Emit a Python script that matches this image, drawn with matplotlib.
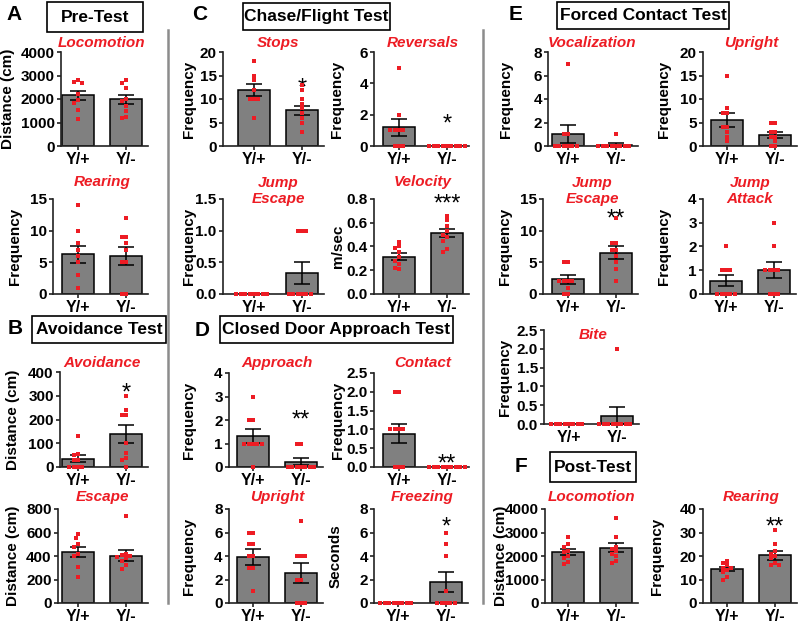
import matplotlib.pyplot as plt
from matplotlib.patches import Rectangle
from matplotlib.lines import Line2D
import numpy as np

plt.rcParams['font.family'] = ['Liberation Sans', 'DejaVu Sans']
plt.rcParams['font.weight'] = 'bold'

W, H = 800, 622
RED = '#ed1c24'
BAR = '#808080'
AXC = '#222222'

groups = ['Y/+', 'Y/-']

# A  Pre-Test
pre_loco_wt = [2800, 2730, 2700, 2230, 1950, 1840, 1530, 1150]
pre_loco_ko = [2800, 2700, 2450, 2000, 1900, 1700, 1500, 1250, 1200]
pre_loco_mean = [2150, 1990]
pre_loco_sem = [200, 190]

pre_rear_wt = [14, 10, 8, 7, 6, 5, 3, 1]
pre_rear_ko = [12, 9, 9, 8, 7, 5, 5, 0, 0]
pre_rear_mean = [6.3, 6.0]
pre_rear_sem = [1.35, 1.4]

# B  Avoidance Test
avoid_wt = [130, 55, 50, 30, 30, 0, 0, 0, 0]
avoid_ko = [300, 240, 220, 220, 100, 60, 40, 30, 0]
avoid_mean = [35, 140]
avoid_sem = [14, 37]

escape_wt = [585, 550, 500, 480, 420, 400, 310, 220]
escape_ko = [740, 420, 410, 400, 390, 380, 360, 320, 290]
escape_mean = [434, 403]
escape_sem = [42, 48]

# C  Chase/Flight Test
stops_wt = [18, 15, 14, 12, 10, 10, 10, 6]
stops_ko = [13, 12, 10, 9, 8, 7, 6, 5, 3]
stops_mean = [11.9, 7.6]
stops_sem = [1.3, 1.0]

rev_wt = [5, 2, 1, 1, 1, 1, 0, 0, 0]
rev_ko = [0, 0, 0, 0, 0, 0, 0, 0, 0]
rev_mean = [1.2, 0]
rev_sem = [0.53, 0]

cjump_wt = [0, 0, 0, 0, 0, 0, 0, 0]
cjump_ko = [1, 1, 1, 0, 0, 0, 0, 0, 0]
cjump_mean = [0, 0.33]
cjump_sem = [0, 0.17]

vel_wt = [0.44, 0.40, 0.39, 0.35, 0.31, 0.28, 0.25, 0.22, 0.21]
vel_ko = [0.66, 0.62, 0.57, 0.53, 0.50, 0.48, 0.45, 0.38, 0.35]
vel_mean = [0.315, 0.513]
vel_sem = [0.03, 0.037]

# D  Closed Door Approach Test
appr_wt = [3, 2, 2, 1, 1, 1, 1, 1, 0]
appr_ko = [1, 1, 0, 0, 0, 0, 0, 0, 0]
appr_mean = [1.33, 0.22]
appr_sem = [0.3, 0.15]

cont_wt = [2, 2, 1, 1, 1, 1, 0, 0, 0]
cont_ko = [0, 0, 0, 0, 0, 0, 0, 0, 0]
cont_mean = [0.89, 0]
cont_sem = [0.26, 0]

dup_wt = [6, 6, 5, 5, 4, 4, 3, 3, 1]
dup_ko = [7, 4, 4, 4, 2, 2, 0, 0, 0]
dup_mean = [3.9, 2.56]
dup_sem = [0.66, 0.82]

freeze_wt = [0, 0, 0, 0, 0, 0, 0, 0]
freeze_ko = [6, 5, 4, 1, 0, 0, 0, 0, 0]
freeze_mean = [0, 1.78]
freeze_sem = [0, 0.85]

# E  Forced Contact Test
vocal_wt = [7, 1, 1, 0, 0, 0, 0, 0, 0]
vocal_ko = [1, 0, 0, 0, 0, 0, 0, 0, 0]
vocal_mean = [1.0, 0.11]
vocal_sem = [0.76, 0.11]

eup_wt = [15, 8, 7, 7, 4, 4, 3, 2, 1]
eup_ko = [5, 5, 3, 3, 2, 2, 1, 0, 0]
eup_mean = [5.5, 2.3]
eup_sem = [1.5, 0.6]

ejump_wt = [5, 5, 2, 2, 2, 2, 1, 0, 0]
ejump_ko = [12, 8, 8, 7, 7, 6, 5, 4, 2]
ejump_mean = [2.3, 6.55]
ejump_sem = [0.65, 0.95]

attack_wt = [2, 1, 1, 1, 0, 0, 0, 0, 0]
attack_ko = [3, 2, 1, 1, 1, 1, 0, 0, 0]
attack_mean = [0.56, 1.0]
attack_sem = [0.24, 0.33]

bite_wt = [0, 0, 0, 0, 0, 0, 0, 0]
bite_ko = [2, 0, 0, 0, 0, 0, 0, 0, 0]
bite_mean = [0, 0.22]
bite_sem = [0, 0.22]

# F  Post-Test
post_loco_wt = [2800, 2500, 2400, 2200, 2150, 2000, 1900, 1750, 1650]
post_loco_ko = [3600, 2800, 2400, 2300, 2200, 2100, 2000, 1800, 1700]
post_loco_mean = [2170, 2360]
post_loco_sem = [130, 190]

post_rear_wt = [18, 17, 16, 15, 15, 14, 13, 11, 10]
post_rear_ko = [31, 25, 22, 21, 20, 19, 17, 16, 16]
post_rear_mean = [14.5, 20.3]
post_rear_sem = [1.0, 1.9]

# layout in pixels: y-axis x, left edge of first bar, y of top tick, y of zero,
# title y, y-label x
layout = {
    'pre_loco':  (61, 62, 52, 146, 43, 8),
    'pre_rear':  (53, 62, 199, 294, 182, 15),
    'avoid':     (60, 62, 372, 467, 363, 13),
    'escape':    (58, 62, 509, 603, 497, 13),
    'stops':     (223, 238, 52, 146, 43, 189),
    'rev':       (374, 383, 52, 146, 43, 337),
    'cjump':     (223, 238, 199, 294, 191, 189),
    'vel':       (374, 383, 199, 294, 182, 338),
    'appr':      (229, 237, 373, 467, 363, 189),
    'cont':      (374, 383, 373, 467, 363, 338),
    'dup':       (229, 237, 509, 603, 497, 189),
    'freeze':    (374, 382, 509, 603, 497, 336),
    'vocal':     (548, 552, 52, 146, 43, 506),
    'eup':       (703, 711, 52, 146, 43, 664),
    'ejump':     (543, 552, 199, 294, 191, 505),
    'attack':    (703, 710, 199, 294, 191, 664),
    'bite':      (544, 553, 330, 424, 335, 505),
    'post_loco': (545, 552, 509, 603, 497, 501),
    'post_rear': (703, 711, 509, 603, 497, 657),
}

fig = plt.figure(figsize=(W / 100, H / 100), dpi=100)


def swarm(vals, ppu, d=4.4, step=2.2):
    # simple beeswarm in pixel space, returns x offsets in bar units (48 px)
    placed, out = [], []
    cands = [0]
    for j in range(1, 20):
        cands += [-j, j]
    for v in vals:
        y = v * ppu
        for c in cands:
            x = c * step
            if all((x - px) ** 2 + (y - py) ** 2 >= (d - 0.1) ** 2 for px, py in placed):
                break
        placed.append((x, y))
        out.append(x / 48)
    return np.array(out)


def panel(key, wt, ko, mean, sem, title, ylabel, ymax, step, star=None, star_y=None):
    spine, left, top, base, ty, lx = layout[key]
    c0 = left + 16
    end = left + 86
    ax = fig.add_axes([spine / W, 1 - base / H, (end - spine) / W, (base - top) / H])
    ax.set_xlim((spine - c0) / 48, (end - c0) / 48)
    ax.set_ylim(0, ymax)
    ax.bar([0, 1], mean, width=32 / 48, color=BAR, edgecolor='black', linewidth=1.1, zorder=2)
    idx = [i for i in range(2) if sem[i] > 0]
    ax.errorbar(idx, [mean[i] for i in idx], yerr=[sem[i] for i in idx], fmt='none',
                ecolor='black', elinewidth=1.1, capsize=6, capthick=1.1, zorder=3)
    ppu = (base - top) / ymax
    for i, pts in enumerate([wt, ko]):
        ax.plot(i + swarm(pts, ppu), pts, 's', color=RED, ms=2.9, mew=0, zorder=4, clip_on=False)
    ticks = np.arange(0, ymax + step / 2, step)
    ax.set_yticks(ticks)
    if step < 1:
        ax.set_yticklabels(['%.1f' % t for t in ticks])
    else:
        ax.set_yticklabels(['%d' % t for t in ticks])
    ax.set_xticks([0, 1])
    ax.set_xticklabels(groups)
    for s in ['top', 'right']:
        ax.spines[s].set_visible(False)
    for s in ['left', 'bottom']:
        ax.spines[s].set_color(AXC)
        ax.spines[s].set_linewidth(1.2)
    ax.tick_params(axis='y', length=3, width=1.2, pad=1.5, labelsize=11, color=AXC)
    ax.tick_params(axis='x', length=3, width=1.2, pad=1, labelsize=11.5, color=AXC)
    ax.patch.set_alpha(0)
    fig.text(lx / W, 1 - (top + base) / 2 / H, ylabel, rotation=90, ha='center', va='center',
             fontsize=11)
    fig.text((c0 + 24) / W, 1 - ty / H, title, color=RED, style='italic', fontsize=11,
             ha='center', va='center', linespacing=1.15)
    if star:
        ax.annotate(star, (1, star_y), xytext=(0, -10), textcoords='offset points',
                    ha='center', va='baseline', fontsize=17, fontweight='normal',
                    annotation_clip=False)
    return ax


panel('pre_loco', pre_loco_wt, pre_loco_ko, pre_loco_mean, pre_loco_sem,
      'Locomotion', 'Distance (cm)', 4000, 1000)
panel('pre_rear', pre_rear_wt, pre_rear_ko, pre_rear_mean, pre_rear_sem,
      'Rearing', 'Frequency', 15, 5)
panel('avoid', avoid_wt, avoid_ko, avoid_mean, avoid_sem,
      'Avoidance', 'Distance (cm)', 400, 100, '*', 341)
panel('escape', escape_wt, escape_ko, escape_mean, escape_sem,
      'Escape', 'Distance (cm)', 800, 200)
panel('stops', stops_wt, stops_ko, stops_mean, stops_sem,
      'Stops', 'Frequency', 20, 5, '*', 14.0)
panel('rev', rev_wt, rev_ko, rev_mean, rev_sem,
      'Reversals', 'Frequency', 6, 2, '*', 1.85)
panel('cjump', cjump_wt, cjump_ko, cjump_mean, cjump_sem,
      'Jump\nEscape', 'Frequency', 1.5, 0.5)
panel('vel', vel_wt, vel_ko, vel_mean, vel_sem,
      'Velocity', 'm/sec', 0.8, 0.2, '***', 0.82)
panel('appr', appr_wt, appr_ko, appr_mean, appr_sem,
      'Approach', 'Frequency', 4, 1, '**', 2.3)
panel('cont', cont_wt, cont_ko, cont_mean, cont_sem,
      'Contact', 'Frequency', 2.5, 0.5, '**', 0.28)
panel('dup', dup_wt, dup_ko, dup_mean, dup_sem,
      'Upright', 'Frequency', 8, 2)
panel('freeze', freeze_wt, freeze_ko, freeze_mean, freeze_sem,
      'Freezing', 'Seconds', 8, 2, '*', 7.06)
panel('vocal', vocal_wt, vocal_ko, vocal_mean, vocal_sem,
      'Vocalization', 'Frequency', 8, 2)
panel('eup', eup_wt, eup_ko, eup_mean, eup_sem,
      'Upright', 'Frequency', 20, 5)
panel('ejump', ejump_wt, ejump_ko, ejump_mean, ejump_sem,
      'Jump\nEscape', 'Frequency', 15, 5, '**', 13.0)
panel('attack', attack_wt, attack_ko, attack_mean, attack_sem,
      'Jump\nAttack', 'Frequency', 4, 1)
panel('bite', bite_wt, bite_ko, bite_mean, bite_sem,
      'Bite', 'Frequency', 2.5, 0.5)
panel('post_loco', post_loco_wt, post_loco_ko, post_loco_mean, post_loco_sem,
      'Locomotion', 'Distance (cm)', 4000, 1000)
panel('post_rear', post_rear_wt, post_rear_ko, post_rear_mean, post_rear_sem,
      'Rearing', 'Frequency', 40, 10, '**', 35.3)

# section headers: letter, boxed title
headers = [
    ('A', (14, 15), 'Pre-Test', (47, 2, 143, 32)),
    ('B', (15, 329), 'Avoidance Test', (32, 316, 166, 343)),
    ('C', (200, 15), 'Chase/Flight Test', (243, 3, 390, 30)),
    ('D', (202, 330), 'Closed Door Approach Test', (220, 316, 453, 343)),
    ('E', (516, 15), 'Forced Contact Test', (557, 2, 729, 29)),
    ('F', (521, 467), 'Post-Test', (550, 452, 636, 482)),
]
for letter, (lx, ly), name, (x0, y0, x1, y1) in headers:
    fig.text(lx / W, 1 - ly / H, letter, fontsize=15, ha='center', va='center')
    fig.patches.append(Rectangle((x0 / W, 1 - y1 / H), (x1 - x0) / W, (y1 - y0) / H,
                                 transform=fig.transFigure, fill=False, ec='black', lw=1.2))
    fig.text((x0 + x1) / 2 / W, 1 - (y0 + y1) / 2 / H, name, fontsize=12.5,
             ha='center', va='center')

for x in [168, 483]:
    fig.add_artist(Line2D([x / W, x / W], [1 - 30 / H, 1 - 603 / H], color='#8c8c8c', lw=1.8))

fig.savefig('out.png', dpi=100)
